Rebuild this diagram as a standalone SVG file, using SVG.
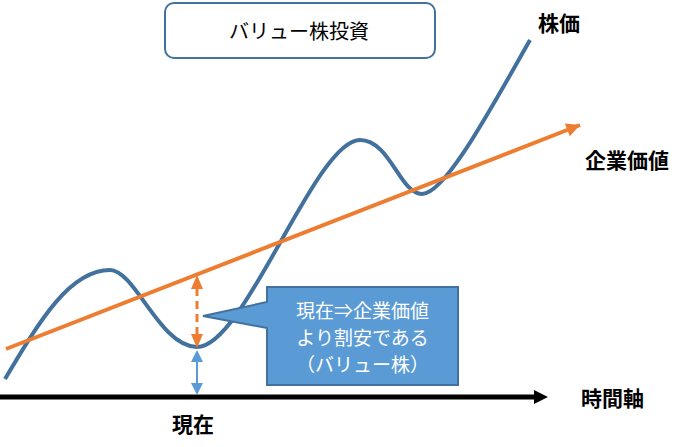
<svg xmlns="http://www.w3.org/2000/svg" width="692" height="447" viewBox="0 0 692 447">
<defs>
<style>
.lbl{font-family:"Noto Sans CJK JP","Noto Sans",sans-serif;font-weight:bold;font-size:21px;fill:#000;dominant-baseline:central}
.txt{font-family:"Noto Sans CJK JP","Noto Sans",sans-serif;font-size:20px;dominant-baseline:central;text-anchor:middle}
.ct{font-family:"Noto Sans CJK JP","Noto Sans",sans-serif;font-size:19px;dominant-baseline:central;text-anchor:middle;fill:#fff}
</style>
<marker id="oarr" viewBox="0 0 10 10" refX="10" refY="5" markerWidth="4" markerHeight="3.4" orient="auto" markerUnits="strokeWidth"><path d="M0,0 L10,5 L0,10 Z" fill="#ED7D31"/></marker>
</defs>
<rect width="692" height="447" fill="#fff"/>
<g id="title">
<rect x="165" y="3" width="270" height="55" rx="9" fill="#fff" stroke="#41719C" stroke-width="2"/>
<text class="txt" x="299" y="30" fill="#000">バリュー株投資</text>
</g>
<g id="connectors">
<path id="stock" d="M5,379 C40,320 70,270 110,270 C135,270 160,347 197,347 C245,347 315,140 360,140 C390,140 400,194 422,194 C445,194 490,110 530,40" fill="none" stroke="#41719C" stroke-width="4"/>
<line id="value" x1="6" y1="349" x2="580" y2="125" stroke="#ED7D31" stroke-width="4" marker-end="url(#oarr)"/>
<line id="axis" x1="0" y1="397" x2="536" y2="397" stroke="#000" stroke-width="5"/>
<polygon points="534,390 548,397 534,404" fill="#000"/>
<line x1="197" y1="288" x2="197" y2="334" stroke="#ED7D31" stroke-width="3" stroke-dasharray="8,5"/>
<polygon points="197,275 203,289 191,289" fill="#ED7D31"/>
<polygon points="197,348 203,334 191,334" fill="#ED7D31"/>
<line x1="197" y1="360" x2="197" y2="384" stroke="#5B9BD5" stroke-width="2"/>
<polygon points="197,350 203,362 191,362" fill="#5B9BD5"/>
<polygon points="197,395 203,383 191,383" fill="#5B9BD5"/>
</g>
<g id="callout">
<path d="M267,287 H458 V385 H267 V328 L203,316 L267,302 Z" fill="#5B9BD5" stroke="#41719C" stroke-width="2"/>
<text class="ct" x="362.5" y="309">現在⇒企業価値</text>
<text class="ct" x="362.5" y="336">より割安である</text>
<text class="ct" x="362.5" y="363">（バリュー株）</text>
</g>
<g id="labels">
<text class="lbl" x="538" y="22">株価</text>
<text class="lbl" x="585" y="159">企業価値</text>
<text class="lbl" x="581" y="397">時間軸</text>
<text class="lbl" x="172" y="423">現在</text>
</g>
</svg>
